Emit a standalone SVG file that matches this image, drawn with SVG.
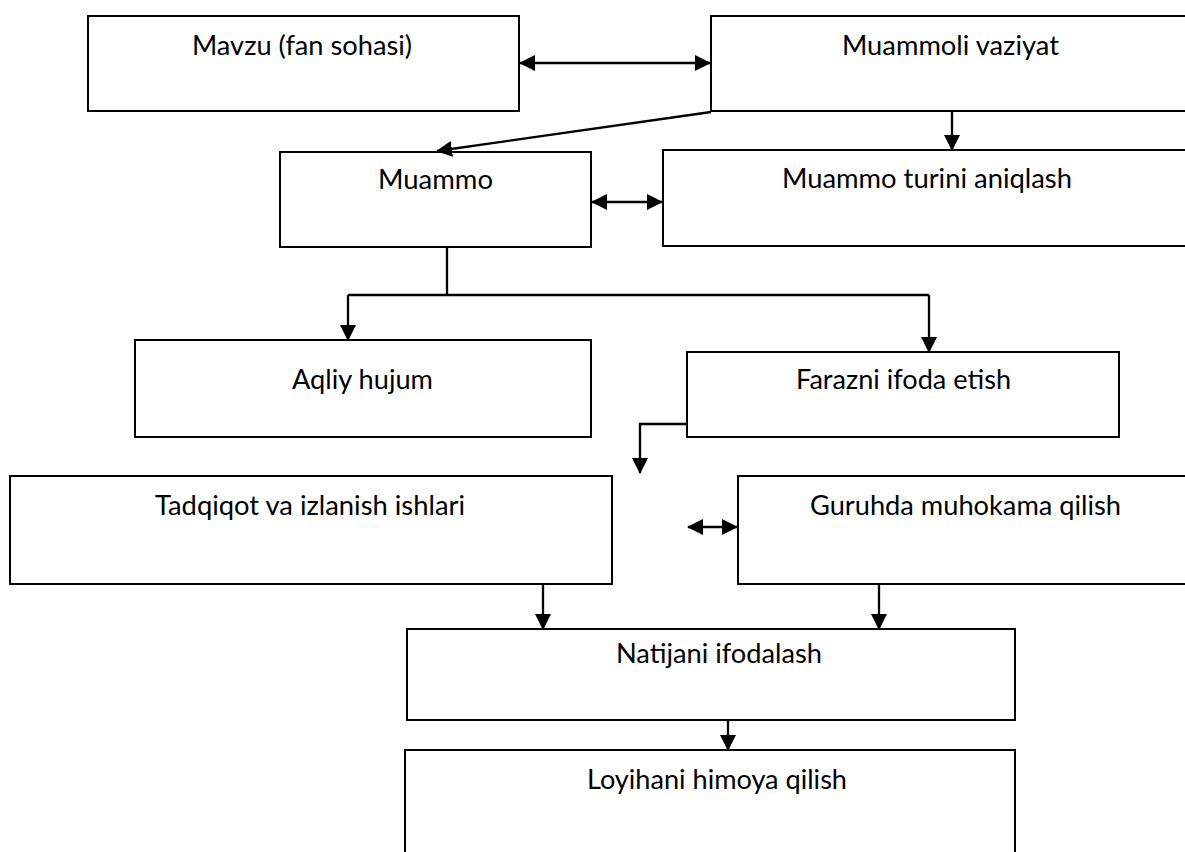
<svg xmlns="http://www.w3.org/2000/svg" width="1185" height="852" viewBox="0 0 1185 852">
<style>
.box{fill:#fff;stroke:#000;stroke-width:2}
.lbl{font-family:Lato,"Liberation Sans",sans-serif;font-size:26px;fill:#000}
.c{fill:none;stroke:#000;stroke-width:2.3}
</style>
<defs>
<marker id="ah" markerUnits="userSpaceOnUse" markerWidth="16" markerHeight="16" refX="15" refY="8" orient="auto-start-reverse" viewBox="0 0 16 16">
<path d="M0,0 L16,8 L0,16 z" fill="#000"/>
</marker>
</defs>
<rect width="1185" height="852" fill="#fff"/>
<g id="n-mavzu"><rect class="box" x="88" y="16" width="431" height="95"/><text class="lbl" x="192" y="55" textLength="220" lengthAdjust="spacingAndGlyphs">Mavzu (fan sohasi)</text></g>
<g id="n-vaziyat"><rect class="box" x="711" y="16" width="490" height="95"/><text class="lbl" x="842" y="55" textLength="217" lengthAdjust="spacingAndGlyphs">Muammoli vaziyat</text></g>
<g id="n-muammo"><rect class="box" x="280" y="152" width="311" height="95"/><text class="lbl" x="378" y="189" textLength="115" lengthAdjust="spacingAndGlyphs">Muammo</text></g>
<g id="n-turi"><rect class="box" x="663" y="150" width="540" height="96"/><text class="lbl" x="782" y="188" textLength="290" lengthAdjust="spacingAndGlyphs">Muammo turini aniqlash</text></g>
<g id="n-aqliy"><rect class="box" x="135" y="340" width="456" height="97"/><text class="lbl" x="292" y="389" textLength="141" lengthAdjust="spacingAndGlyphs">Aqliy hujum</text></g>
<g id="n-faraz"><rect class="box" x="687" y="352" width="432" height="85"/><text class="lbl" x="796" y="389" textLength="215" lengthAdjust="spacingAndGlyphs">Farazni ifoda etish</text></g>
<g id="n-tadqiqot"><rect class="box" x="10" y="476" width="602" height="108"/><text class="lbl" x="155" y="515" textLength="310" lengthAdjust="spacingAndGlyphs">Tadqiqot va izlanish ishlari</text></g>
<g id="n-guruh"><rect class="box" x="738" y="476" width="465" height="108"/><text class="lbl" x="810" y="515" textLength="311" lengthAdjust="spacingAndGlyphs">Guruhda muhokama qilish</text></g>
<g id="n-natija"><rect class="box" x="407" y="629" width="608" height="91"/><text class="lbl" x="616" y="663" textLength="206" lengthAdjust="spacingAndGlyphs">Natijani ifodalash</text></g>
<g id="n-loyiha"><rect class="box" x="405" y="750" width="610" height="120"/><text class="lbl" x="587" y="789" textLength="260" lengthAdjust="spacingAndGlyphs">Loyihani himoya qilish</text></g>
<g id="connectors">
<path class="c" d="M520,63 H710" marker-start="url(#ah)" marker-end="url(#ah)"/>
<path class="c" d="M711,112 L437,151" marker-end="url(#ah)"/>
<path class="c" d="M952,111 V150" marker-end="url(#ah)"/>
<path class="c" d="M592,202 H662" marker-start="url(#ah)" marker-end="url(#ah)"/>
<path class="c" d="M447,247 V295 M348,295 H929"/>
<path class="c" d="M348,295 V340" marker-end="url(#ah)"/>
<path class="c" d="M929,295 V352" marker-end="url(#ah)"/>
<path class="c" d="M687,424 H640 V473" marker-end="url(#ah)"/>
<path class="c" d="M688,527 H737" marker-start="url(#ah)" marker-end="url(#ah)"/>
<path class="c" d="M543,584 V629" marker-end="url(#ah)"/>
<path class="c" d="M879,584 V629" marker-end="url(#ah)"/>
<path class="c" d="M728,721 V750" marker-end="url(#ah)"/>
</g>
</svg>
